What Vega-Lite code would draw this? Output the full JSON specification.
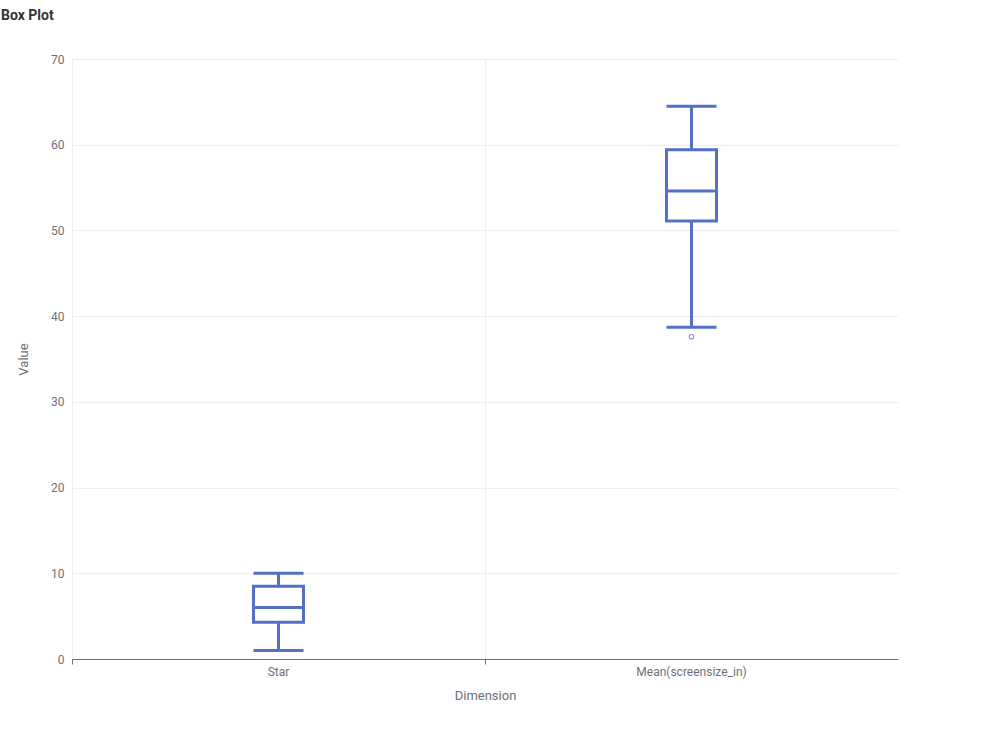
{
"$schema":"https://vega.github.io/schema/vega-lite/v6.json",
"autosize":{"type":"none"},
"padding":{"left":72,"top":59,"right":100,"bottom":70},
"width":826,"height":600,
"background":"white",
"title":{"text":"Box Plot","anchor":"start","frame":"group","dx":-71,"offset":30,"font":"Roboto","fontSize":14,"fontWeight":"bold","color":"#333333"},
"config":{"font":"Roboto","view":{"stroke":null},
 "axis":{"labelFont":"Roboto","titleFont":"Roboto","labelColor":"#6e7079","titleColor":"#6e7079","labelFontSize":12,"titleFontSize":13,"titleFontWeight":"normal","gridColor":"#eeeeee"}},
"datasets":{
 "box":[{"cat":"Star","lo":1,"q1":4.3,"med":6,"q3":8.5,"hi":10},
        {"cat":"Mean(screensize_in)","lo":38.7,"q1":51.1,"med":54.6,"q3":59.4,"hi":64.5}],
 "out":[{"cat":"Mean(screensize_in)","v":37.6}]},
"data":{"name":"box"},
"encoding":{"x":{"field":"cat","type":"nominal","sort":["Star","Mean(screensize_in)"],"scale":{"paddingInner":0,"paddingOuter":0},
 "axis":{"labelAngle":0,"title":"Dimension","grid":true,"bandPosition":0,"domainColor":"#6e7079","tickColor":"#6e7079","titlePadding":12}}},
"layer":[
 {"mark":{"type":"rule","color":"#5470c6","strokeWidth":3},"encoding":{"y":{"field":"lo","type":"quantitative","scale":{"domain":[0,70]},"axis":{"title":"Value","tickCount":7,"domain":false,"ticks":false,"labelPadding":8,"titlePadding":20}},"y2":{"field":"hi"}}},
 {"mark":{"type":"bar","size":50,"fill":"white","stroke":"#5470c6","strokeWidth":3},"encoding":{"y":{"field":"q1","type":"quantitative"},"y2":{"field":"q3"}}},
 {"mark":{"type":"tick","size":50,"thickness":3,"color":"#5470c6","opacity":1},"encoding":{"y":{"field":"med","type":"quantitative"}}},
 {"mark":{"type":"tick","size":50,"thickness":3,"color":"#5470c6","opacity":1},"encoding":{"y":{"field":"lo","type":"quantitative"}}},
 {"mark":{"type":"tick","size":50,"thickness":3,"color":"#5470c6","opacity":1},"encoding":{"y":{"field":"hi","type":"quantitative"}}},
 {"data":{"name":"out"},"mark":{"type":"point","size":20,"color":"#5470c6","strokeWidth":1.2},"encoding":{"y":{"field":"v","type":"quantitative"}}}
]}
